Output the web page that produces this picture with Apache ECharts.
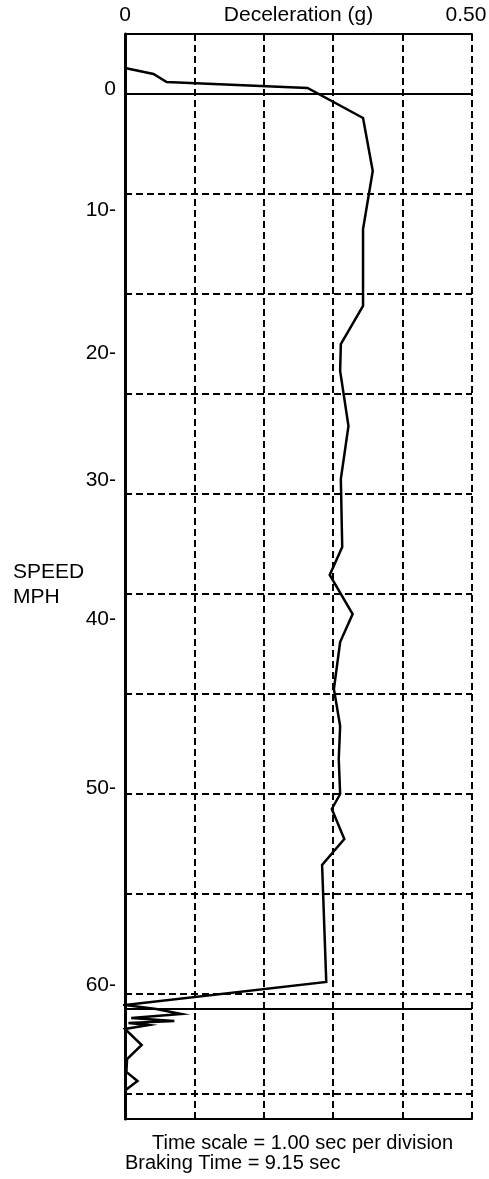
<!DOCTYPE html>
<html>
<head>
<meta charset="utf-8">
<script src="https://cdn.jsdelivr.net/npm/echarts@6/dist/echarts.min.js"></script>
<style>
  html, body { margin: 0; padding: 0; background: #fff; }
  #chart { width: 489px; height: 1179px; }
</style>
</head>
<body>
<div id="chart"></div>
<script>
// Deceleration trace (g) against elapsed time (s, downward)
const curveG = [0, 0.041, 0.060, 0.263, 0.343, 0.357, 0.343, 0.343, 0.311, 0.310, 0.322, 0.311,
                0.313, 0.295, 0.328, 0.310, 0.301, 0.310, 0.308, 0.310, 0.298, 0.316, 0.284, 0.290,
                0, 0.045, 0.081, 0.009, 0.071, 0.005, 0.034, 0, 0.024, 0.003, 0.002, 0.018, 0.001];
const curveT = [-0.26, -0.20, -0.12, -0.06, 0.24, 0.77, 1.35, 2.12, 2.50, 2.77, 3.32, 3.85,
                4.53, 4.81, 5.20, 5.48, 5.95, 6.32, 6.65, 7.00, 7.15, 7.45, 7.71, 8.88,
                9.11, 9.15, 9.20, 9.24, 9.27, 9.29, 9.31, 9.35, 9.51, 9.65, 9.78, 9.87, 9.96];

// Speed tick labels and where they sit on the time scale
const speedLabels = ['0', '10-', '20-', '30-', '40-', '50-', '60-'];
const speedLabelTimes = [-0.05, 1.16, 2.59, 3.86, 5.25, 6.94, 8.91];

// Deceleration axis labels
const decelTickValues = [0, 0.5];
const decelTickLabels = ['0', '0.50'];

// Time grid (1.00 s per division) and braking start / end
const timeGridLines = [1, 2, 3, 4, 5, 6, 7, 8, 9, 10];
const brakingStartEnd = [0, 9.15];

const FONT = 'Liberation Sans, Arial, Helvetica, sans-serif';
const dash = { color: '#000', width: 2, type: [7, 4] };

const chart = echarts.init(document.getElementById('chart'), null, { renderer: 'canvas' });

const markData = timeGridLines.map(v => ({ yAxis: v, lineStyle: dash }))
  .concat(brakingStartEnd.map(v => ({ yAxis: v, lineStyle: { color: '#000', width: 2, type: 'solid' } })));

chart.setOption({
  animation: false,
  backgroundColor: '#fff',
  title: [
    { text: 'SPEED\nMPH', left: 8, top: 555,
      textStyle: { fontFamily: FONT, fontSize: 21, fontWeight: 'normal', color: '#000', lineHeight: 25 } },
    { text: 'Time scale = 1.00 sec per division', left: 147, top: 1128,
      textStyle: { fontFamily: FONT, fontSize: 20, fontWeight: 'normal', color: '#000', lineHeight: 20 } },
    { text: 'Braking Time = 9.15 sec', left: 120, top: 1148,
      textStyle: { fontFamily: FONT, fontSize: 20, fontWeight: 'normal', color: '#000', lineHeight: 20 } }
  ],
  grid: { left: 125, top: 34, width: 347, height: 1085, containLabel: false, outerBoundsMode: 'none' },
  xAxis: [
    {
      type: 'value', position: 'top', min: 0, max: 0.5, interval: 0.1,
      name: 'Deceleration (g)', nameLocation: 'middle', nameGap: 8, nameMoveOverlap: false,
      nameTextStyle: { fontFamily: FONT, fontSize: 21, color: '#000', verticalAlign: 'bottom' },
      axisLine: { show: true, onZero: false, lineStyle: { color: '#000', width: 2 } },
      axisTick: { show: false },
      axisLabel: {
        show: true, margin: 8, fontFamily: FONT, fontSize: 21, color: '#000',
        customValues: decelTickValues,
        formatter: v => {
          const i = decelTickValues.indexOf(v);
          if (i < 0) return '';
          return i === decelTickValues.length - 1 ? '{r|' + decelTickLabels[i] + '}' : decelTickLabels[i];
        },
        rich: { r: { fontFamily: FONT, fontSize: 21, color: '#000', padding: [0, 12, 0, 0] } }
      },
      splitLine: { show: true, showMinLine: false, showMaxLine: true, lineStyle: dash }
    },
    {
      type: 'value', position: 'bottom', min: 0, max: 0.5, interval: 0.1,
      axisLine: { show: true, onZero: false, lineStyle: { color: '#000', width: 2 } },
      axisTick: { show: false }, axisLabel: { show: false }, splitLine: { show: false }
    }
  ],
  yAxis: [
    {
      type: 'value', inverse: true, min: -0.6, max: 10.25,
      axisLine: { show: true, onZero: false, lineStyle: { color: '#000', width: 3 } },
      axisTick: { show: false },
      splitLine: { show: false },
      axisLabel: {
        show: true, margin: 9, fontFamily: FONT, fontSize: 21, color: '#000',
        customValues: speedLabelTimes,
        formatter: v => speedLabels[speedLabelTimes.indexOf(v)] ?? ''
      }
    }
  ],
  series: [
    {
      type: 'line', xAxisIndex: 0, yAxisIndex: 0,
      data: curveG.map((g, i) => [g, curveT[i]]),
      symbol: 'none', smooth: false,
      lineStyle: { color: '#000', width: 2.5, join: 'miter' },
      markLine: { silent: true, symbol: ['none', 'none'], label: { show: false }, data: markData }
    }
  ]
});
</script>
</body>
</html>
